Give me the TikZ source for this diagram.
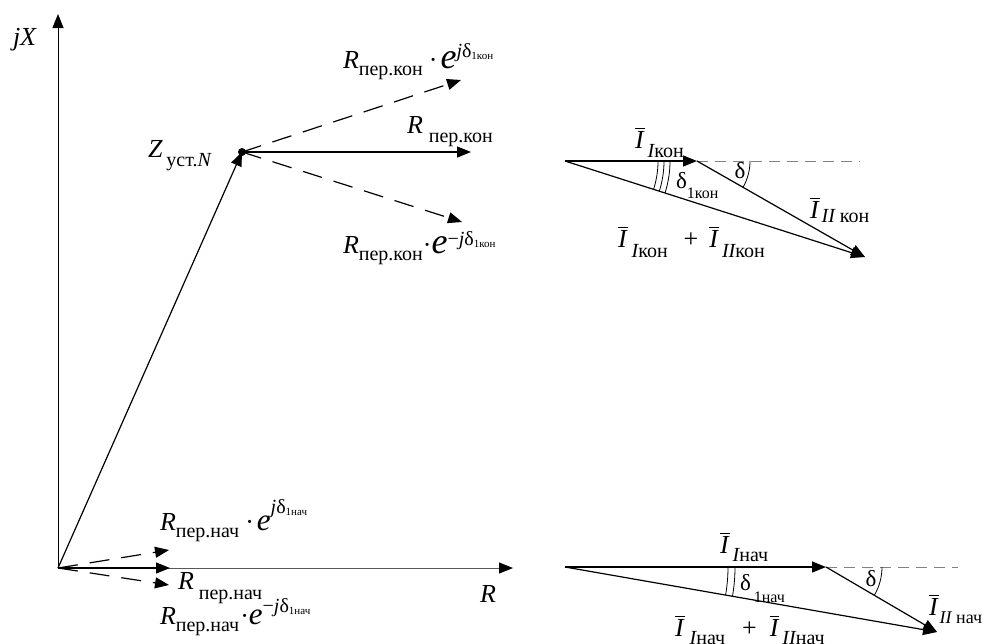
\documentclass[tikz,border=0pt]{standalone}
\usepackage{fontspec}
\setmainfont{Liberation Serif}
\usetikzlibrary{arrows.meta,calc}
\newcommand\fmain{\fontsize{26}{28}\selectfont}
\newcommand\fsub{\fontsize{20}{22}\selectfont}
\newcommand\fsubs{\fontsize{18}{20}\selectfont}
\newcommand\fidx{\fontsize{11}{12}\selectfont}
\newcommand\fidxb{\fontsize{16}{18}\selectfont}
\newcommand\fdel{\fontsize{23}{25}\selectfont}
\newcommand\fe{\fontsize{36}{38}\selectfont}
\newcommand\fes{\fontsize{31}{33}\selectfont}
\newcommand\vecI{\vbox{\hrule height 1.3pt\kern2pt\hbox{\fmain\itshape I\kern1pt}}}
\newcommand\Rper[1]{{\fmain\itshape R}\raisebox{-7pt}{\fsub пер.#1}}
\newcommand\expo[4]{{#1\itshape e}\raisebox{#2}{\fsub #3\itshape j\upshape δ\raisebox{-2pt}{\fidx 1#4}}}
\begin{document}
\begin{tikzpicture}[x=1pt,y=-1pt,
  vec/.style={line width=1.2pt,-{Triangle[length=14pt,width=11pt]}},
  dvec/.style={vec,dash pattern=on 20pt off 12pt},
  axis/.style={line width=1pt,-{Triangle[length=14pt,width=11pt,black]}},
  aux/.style={gray,line width=0.9pt,dash pattern=on 11pt off 7pt},
  ang/.style={line width=0.8pt},
  lbl/.style={anchor=base west,inner sep=0pt,outer sep=0pt}]
  \useasboundingbox (0,0) rectangle (987,643);
  \coordinate (O) at (58,568);
  \coordinate (Ytop) at (58,14);
  \coordinate (Xend) at (513,568);
  \coordinate (Z) at (242,152);
  \coordinate (Zup) at (461,80);
  \coordinate (Zr) at (471,152);
  \coordinate (Zdn) at (462,222);
  \coordinate (Nup) at (169,550);
  \coordinate (Nr) at (170,568);
  \coordinate (Ndn) at (169,585);
  \coordinate (Ak) at (565,161);
  \coordinate (Bk) at (697,161);
  \coordinate (Ck) at (865,257);
  \coordinate (Dk) at (860,161);
  \coordinate (An) at (565,567);
  \coordinate (Bn) at (826,567);
  \coordinate (Cn) at (937,632);
  \coordinate (Dn) at (958,567);

  \draw[axis] (O) -- (Ytop);
  \draw[axis,black!65] (O) -- (Xend);
  \draw[vec] (O) -- (Z);
  \fill (Z) circle[radius=4pt];
  \draw[vec] (Z) -- (Zr);
  \draw[dvec] (Z) -- (Zup);
  \draw[dvec] (Z) -- (Zdn);
  \draw[vec] (O) -- (Nr);
  \draw[dvec] (O) -- (Nup);
  \draw[dvec] (O) -- (Ndn);

  \draw[vec] (Ak) -- (Bk);
  \draw[aux] (Bk) -- (Dk);
  \draw[vec] (Bk) -- (Ck);
  \draw[vec] (Ak) -- (Ck);
  \foreach \r in {93,99,105}
    \draw[ang] ($(Ak)+(\r,0)$) arc[start angle=0,end angle=-17.7,radius=\r pt];
  \draw[ang] ($(Bk)+(53,0)$) arc[start angle=0,end angle=-29.7,radius=53pt];

  \draw[vec] (An) -- (Bn);
  \draw[aux] (Bn) -- (Dn);
  \draw[vec] (Bn) -- (Cn);
  \draw[vec] (An) -- (Cn);
  \foreach \r in {163,170}
    \draw[ang] ($(An)+(\r,0)$) arc[start angle=0,end angle=-9.9,radius=\r pt];
  \draw[ang] ($(Bn)+(56,0)$) arc[start angle=0,end angle=-30.4,radius=56pt];

  \node[lbl] (lJX) at (13,45) {\fmain\itshape jX};
  \node[lbl] (lR) at (480,602) {\fmain\itshape R};
  \node[lbl] (lZ) at (148,157) {{\fmain\itshape Z}\hspace{4pt}\raisebox{-9pt}{\fsub уст.\itshape N}};
  \node[lbl] (lRku) at (343,68) {\Rper{кон}\hspace{6pt}{\fmain·}\hspace{3pt}\expo{\fe}{11pt}{}{кон}};
  \node[lbl] (lRk) at (407,133) {{\fmain\itshape R}\hspace{6pt}\raisebox{-9pt}{\fsub пер.кон}};
  \node[lbl] (lRkd) at (343,253) {\Rper{кон}\hspace{0pt}{\fmain·}\hspace{0pt}\expo{\fe}{8pt}{−}{кон}};
  \node[lbl] (lRnu) at (160,530) {\Rper{нач}\hspace{6pt}{\fmain·}\hspace{3pt}\expo{\fes}{17pt}{}{нач}};
  \node[lbl] (lRn) at (178,589) {{\fmain\itshape R}\hspace{5pt}\raisebox{-10pt}{\fsub пер.нач}};
  \node[lbl] (lRnd) at (160,624) {\Rper{нач}\hspace{1pt}{\fmain·}\hspace{0pt}\expo{\fes}{12pt}{−}{нач}};

  \node[lbl] (lIk1) at (635,148) {\vecI\hspace{3pt}\raisebox{-9pt}{\fsub\itshape I\upshape кон}};
  \node[lbl] (lIk2) at (810,218) {\vecI\hspace{2pt}\raisebox{-4pt}{\fsub\itshape II \upshape кон}};
  \node[lbl] (lIks) at (618,247) {\vecI\hspace{4pt}\raisebox{-10pt}{\fsub\itshape I\upshape кон}\hspace{16pt}{\fmain +}\hspace{11pt}\vecI\hspace{3pt}\raisebox{-10pt}{\fsub\itshape II\upshape кон}};
  \node[lbl] (ldk1) at (676,188) {{\fdel δ}\raisebox{-10pt}{\fidxb 1кон}};
  \node[inner sep=0pt] (ldk) at (740,171) {\fdel δ};
  \node[lbl] (lIn1) at (720,553) {\vecI\hspace{3pt}\raisebox{-8pt}{\fsub\itshape I\upshape нач}};
  \node[lbl] (lIn2) at (929,615) {\vecI\hspace{1pt}\raisebox{-8pt}{\fsubs\itshape II \upshape нач}};
  \node[lbl] (lIns) at (675,636) {\vecI\hspace{5pt}\raisebox{-8pt}{\fsub\itshape I\upshape нач}\hspace{17pt}{\fmain +}\hspace{13pt}\vecI\hspace{3pt}\raisebox{-8pt}{\fsub\itshape II\upshape нач}};
  \node[lbl] (ldn1) at (740,590) {{\fdel δ}\hspace{3pt}\raisebox{-12pt}{\fidxb 1нач}};
  \node[inner sep=0pt] (ldn) at (871,579) {\fdel δ};
\end{tikzpicture}
\end{document}
